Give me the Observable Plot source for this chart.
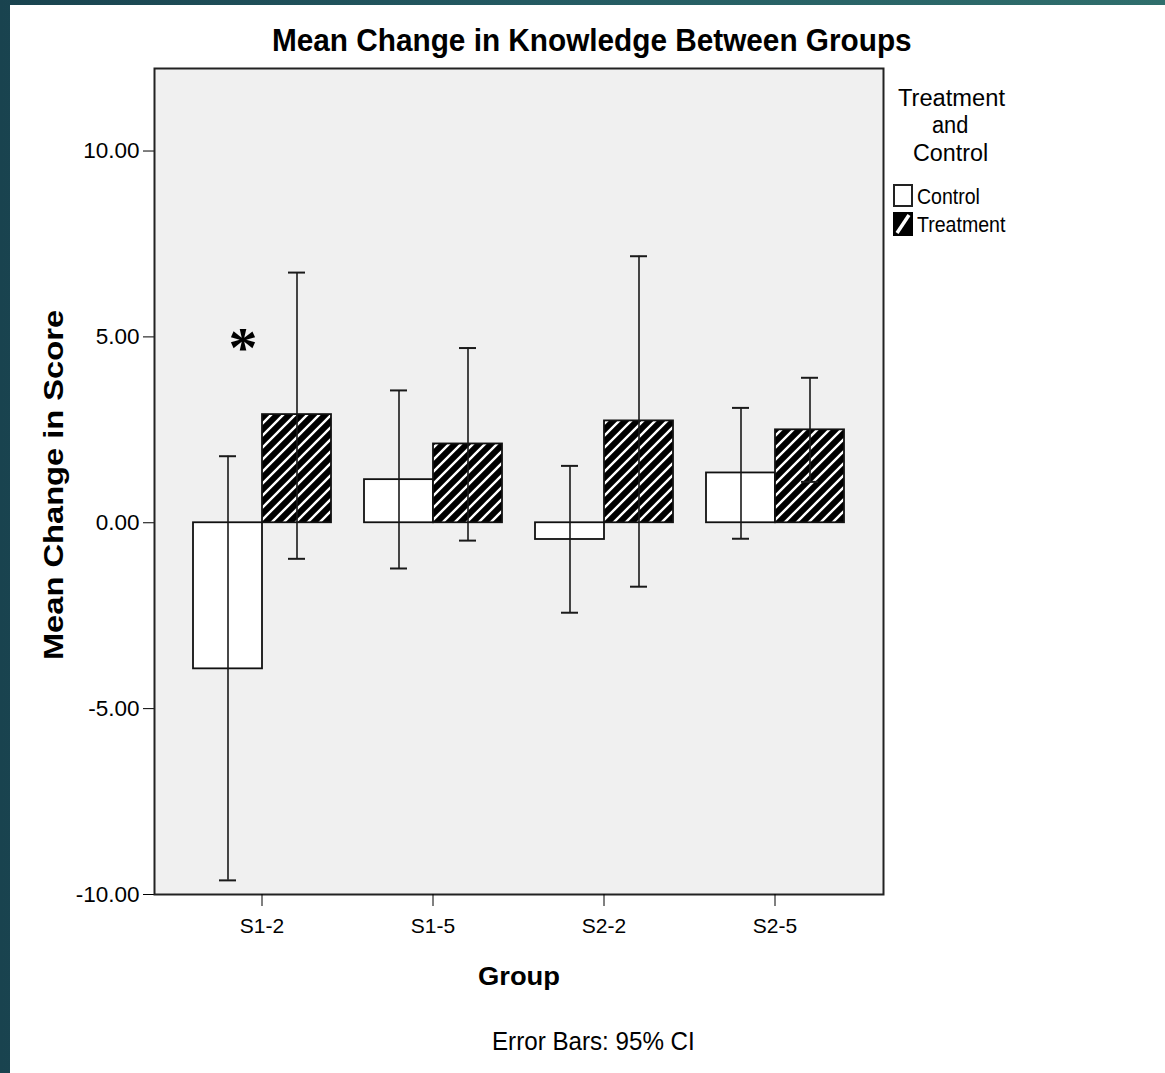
<!DOCTYPE html>
<html>
<head>
<meta charset="utf-8">
<script src="https://cdn.jsdelivr.net/npm/d3@7"></script>
<script src="https://cdn.jsdelivr.net/npm/@observablehq/plot@0.6"></script>
<style>
  html, body { margin: 0; padding: 0; }
  body {
    width: 1165px; height: 1073px; overflow: hidden; position: relative;
    background: linear-gradient(90deg, #19434f 0%, #245a62 45%, #2f6e6c 100%);
    font-family: "Liberation Sans", Arial, sans-serif;
  }
  #panel { position: absolute; left: 10px; top: 5px; width: 1155px; height: 1068px; background: #fff; }
  .layer { position: absolute; left: 0; top: 0; }
  .txt { position: absolute; white-space: nowrap; color: #000; }
</style>
</head>
<body>
<div id="panel"></div>
<script>
// ---------------- data ----------------
const groups = ["S1-2", "S1-5", "S2-2", "S2-5"];
const series = ["Control", "Treatment"];
const controlMean = [-3.93, 1.16, -0.45, 1.34];
const controlLow = [-9.62, -1.23, -2.42, -0.43];
const controlHigh = [1.79, 3.56, 1.53, 3.09];
const treatmentMean = [2.91, 2.12, 2.74, 2.50];
const treatmentLow = [-0.97, -0.48, -1.72, 1.10];
const treatmentHigh = [6.73, 4.70, 7.17, 3.90];
const yTicks = [-10, -5, 0, 5, 10];
const yDomain = [-10, 12.22];
const annotations = [{group: "S1-2", series: "Control", value: 5, label: "*"}];

// table built from the arrays
const rows = [];
groups.forEach((g, i) => {
  rows.push({group: g, series: "Control", mean: controlMean[i], low: controlLow[i], high: controlHigh[i]});
  rows.push({group: g, series: "Treatment", mean: treatmentMean[i], low: treatmentLow[i], high: treatmentHigh[i]});
});

const W = 1165, H = 1073;
const margins = {marginLeft: 154, marginRight: 282, marginTop: 68, marginBottom: 179};
const SQUEEZE = 0.86;

// ---------- base layer: background frame + y axis ----------
const base = Plot.plot({
  width: W, height: H, ...margins,
  style: {background: "transparent", fontFamily: "'Liberation Sans', Arial, sans-serif", fontSize: "22.5px", color: "#000"},
  y: {domain: yDomain, ticks: yTicks, tickFormat: d => d.toFixed(2), tickSize: 11, tickPadding: 4, label: null},
  marks: [
    Plot.frame({fill: "#f0f0f0", stroke: "#222", strokeWidth: 2})
  ]
});
base.classList.add("layer");
document.body.appendChild(base);

// ---------- overlay layer: bars + error bars (faceted) ----------
const chart = Plot.plot({
  width: W, height: H, ...margins,
  style: {background: "transparent", fontFamily: "'Liberation Sans', Arial, sans-serif", fontSize: "21px", color: "#000", overflow: "visible"},
  fx: {domain: groups, paddingInner: 0.185, paddingOuter: 0.2155, axis: "bottom", tickSize: 12, tickPadding: 12, label: null},
  x: {domain: series, padding: 0, axis: null},
  y: {domain: yDomain, axis: null},
  marks: [
    Plot.barY(rows, {filter: d => d.series === "Control", fx: "group", x: "series", y: "mean", fill: "white", stroke: "#111", strokeWidth: 1.8}),
    Plot.barY(rows, {filter: d => d.series === "Treatment", fx: "group", x: "series", y: "mean", fill: "url(#hatch)", stroke: "#111", strokeWidth: 1.8}),
    Plot.ruleX(rows, {fx: "group", x: "series", y1: "low", y2: "high", stroke: "#1a1a1a", strokeWidth: 1.6}),
    Plot.tickY(rows, {fx: "group", x: "series", y: "low", insetLeft: 26, insetRight: 26, stroke: "#1a1a1a", strokeWidth: 2}),
    Plot.tickY(rows, {fx: "group", x: "series", y: "high", insetLeft: 26, insetRight: 26, stroke: "#1a1a1a", strokeWidth: 2}),
    Plot.text(annotations, {fx: "group", x: "series", y: "value", text: "label", fontSize: 58, fontWeight: "bold", fontFamily: "'Liberation Serif', serif", dx: 15, dy: 12, fill: "#000"})
  ]
});
chart.classList.add("layer");
// hatch pattern definition
const defs = d3.select(chart).insert("defs", ":first-child");
const pat = defs.append("pattern").attr("id", "hatch").attr("patternUnits", "userSpaceOnUse").attr("width", 12).attr("height", 12);
pat.append("rect").attr("width", 12).attr("height", 12).attr("fill", "#000");
pat.append("path").attr("d", "M-3,3 L3,-3 M0,12 L12,0 M9,15 L15,9").attr("stroke", "#fff").attr("stroke-width", 2.4);
document.body.appendChild(chart);

// ---------- text blocks ----------
function place(txt, o) {
  const el = document.createElement("div");
  el.className = "txt";
  el.textContent = txt;
  el.style.font = `${o.weight || 400} ${o.size}px 'Liberation Sans', Arial, sans-serif`;
  el.style.lineHeight = o.size + "px";
  document.body.appendChild(el);
  const nat = el.offsetWidth;
  const s = o.width / nat;
  if (o.rotate) {
    el.style.left = (o.cx - nat / 2) + "px";
    el.style.top = (o.cy - o.size / 2) + "px";
    el.style.transformOrigin = "50% 50%";
    el.style.transform = `rotate(-90deg) scale(${s}, ${SQUEEZE})`;
  } else {
    el.style.left = (o.cx - o.width / 2) + "px";
    el.style.top = (o.baseline - 0.8465 * o.size) + "px";
    el.style.transformOrigin = "0 0";
    el.style.transform = `scaleX(${s})`;
  }
  return el;
}

place("Mean Change in Knowledge Between Groups", {size: 31, weight: 700, cx: 592, baseline: 51, width: 640});
place("Mean Change in Score", {size: 32, weight: 700, rotate: true, cx: 53, cy: 485, width: 350});
place("Group", {size: 25, weight: 700, cx: 519, baseline: 985, width: 82});
place("Error Bars: 95% CI", {size: 25, cx: 593.5, baseline: 1050, width: 203});

// legend
place("Treatment", {size: 23, cx: 951, baseline: 106.7, width: 107});
place("and", {size: 23, cx: 950, baseline: 133.5, width: 36});
place("Control", {size: 23, cx: 950.5, baseline: 161.7, width: 75});
place(series[0], {size: 22, cx: 948.5, baseline: 205, width: 63});
place(series[1], {size: 22, cx: 961, baseline: 233, width: 88});

const sw = d3.select(document.body).append("svg")
  .attr("width", 24).attr("height", 56)
  .style("position", "absolute").style("left", "892px").style("top", "183px");
const sp = sw.append("defs").append("pattern").attr("id", "hatch2").attr("patternUnits", "userSpaceOnUse")
  .attr("x", 2).attr("y", 30).attr("width", 18).attr("height", 22);
sp.append("rect").attr("width", 18).attr("height", 22).attr("fill", "#000");
sp.append("path").attr("d", "M3,20 L15,2").attr("stroke", "#fff").attr("stroke-width", 3.5);
sw.append("rect").attr("x", 2).attr("y", 2).attr("width", 18).attr("height", 21).attr("fill", "#fff").attr("stroke", "#222").attr("stroke-width", 2);
sw.append("rect").attr("x", 2).attr("y", 30).attr("width", 18).attr("height", 22).attr("fill", "url(#hatch2)").attr("stroke", "#000").attr("stroke-width", 2);
</script>
</body>
</html>
